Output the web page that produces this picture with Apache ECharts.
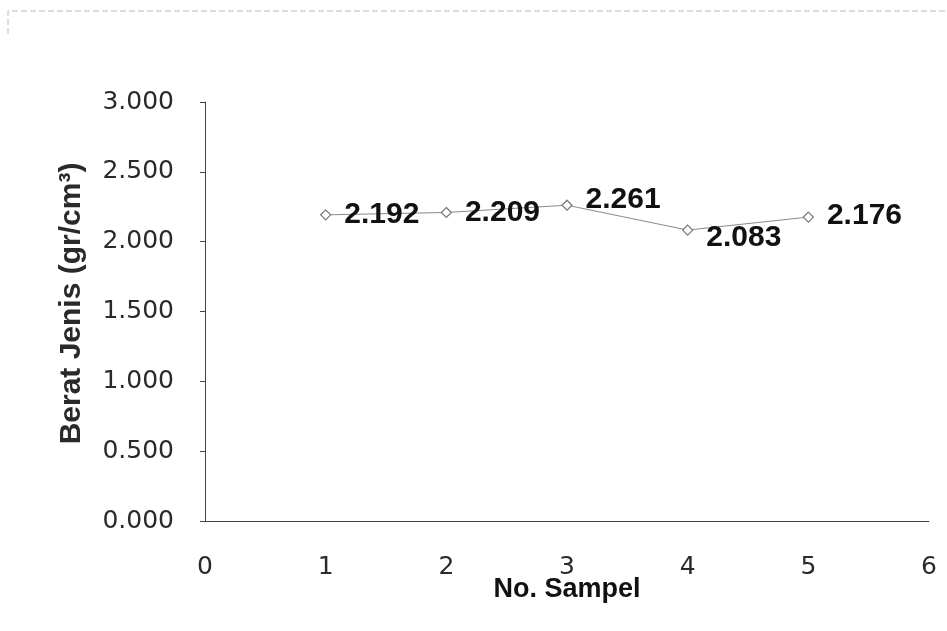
<!DOCTYPE html>
<html>
<head>
<meta charset="utf-8">
<title>Berat Jenis</title>
<script src="https://cdn.jsdelivr.net/npm/echarts@6/dist/echarts.min.js"></script>
<style>
  html, body { margin: 0; padding: 0; background: #fff; }
  #chart { width: 947px; height: 631px; }
</style>
</head>
<body>
<div id="chart"></div>
<script>
// Sample numbers and measured specific gravity (gr/cm3)
const sampleNo = [1, 2, 3, 4, 5];
const beratJenis = [2.192, 2.209, 2.261, 2.083, 2.176];
// Per-point label nudges so the values do not sit on the line
const labelOffsets = [[0, 0], [0, 0], [0, -5], [0, 8], [0, -1]];

const xAxisName = 'No. Sampel';
const yAxisName = 'Berat Jenis (gr/cm³)';

const points = sampleNo.map((n, i) => ({
  value: [n, beratJenis[i]],
  label: { offset: labelOffsets[i] }
}));

const chart = echarts.init(document.getElementById('chart'), null, { renderer: 'canvas' });

chart.setOption({
  backgroundColor: '#ffffff',
  animation: false,
  grid: { left: 205, right: 18, top: 102, bottom: 110, containLabel: false },
  graphic: [
    {
      type: 'polyline',
      silent: true,
      shape: { points: [[8, 34], [8, 11], [947, 11]] },
      style: { stroke: '#b8b8b8', lineWidth: 1, lineDash: [6, 3], fill: null }
    }
  ],
  xAxis: {
    type: 'value',
    min: 0,
    max: 6,
    interval: 1,
    name: xAxisName,
    nameLocation: 'middle',
    nameGap: 55,
    nameMoveOverlap: false,
    nameTextStyle: {
      fontFamily: 'Liberation Sans',
      fontWeight: 'bold',
      fontSize: 27,
      color: '#111'
    },
    axisLine: { show: true, onZero: false, lineStyle: { color: '#444', width: 1 } },
    axisTick: { show: false },
    splitLine: { show: false },
    axisLabel: {
      margin: 34,
      fontFamily: 'DejaVu Sans',
      fontSize: 25,
      color: '#2a2a2a',
      formatter: v => String(v)
    }
  },
  yAxis: {
    type: 'value',
    min: 0,
    max: 3,
    interval: 0.5,
    name: yAxisName,
    nameLocation: 'middle',
    nameGap: 118,
    nameRotate: 90,
    nameTextStyle: {
      fontFamily: 'Liberation Sans',
      fontWeight: 'bold',
      fontSize: 30,
      color: '#2a2a2a',
      padding: [0, 0, 0, 16]
    },
    axisLine: { show: true, lineStyle: { color: '#444', width: 1 } },
    axisTick: { show: true, inside: false, length: 5, lineStyle: { color: '#444' } },
    splitLine: { show: false },
    axisLabel: {
      margin: 31,
      fontFamily: 'DejaVu Sans',
      fontSize: 25,
      color: '#2a2a2a',
      formatter: v => v.toFixed(3)
    }
  },
  series: [
    {
      type: 'line',
      data: points,
      symbol: 'diamond',
      symbolSize: 10,
      showAllSymbol: true,
      lineStyle: { color: '#8a8a8a', width: 1 },
      itemStyle: { color: '#ffffff', borderColor: '#777', borderWidth: 1.2 },
      label: {
        show: true,
        position: 'right',
        distance: 13,
        fontFamily: 'Liberation Sans',
        fontWeight: 'bold',
        fontSize: 30,
        color: '#111',
        formatter: p => p.value[1].toFixed(3)
      }
    }
  ]
});
</script>
</body>
</html>
